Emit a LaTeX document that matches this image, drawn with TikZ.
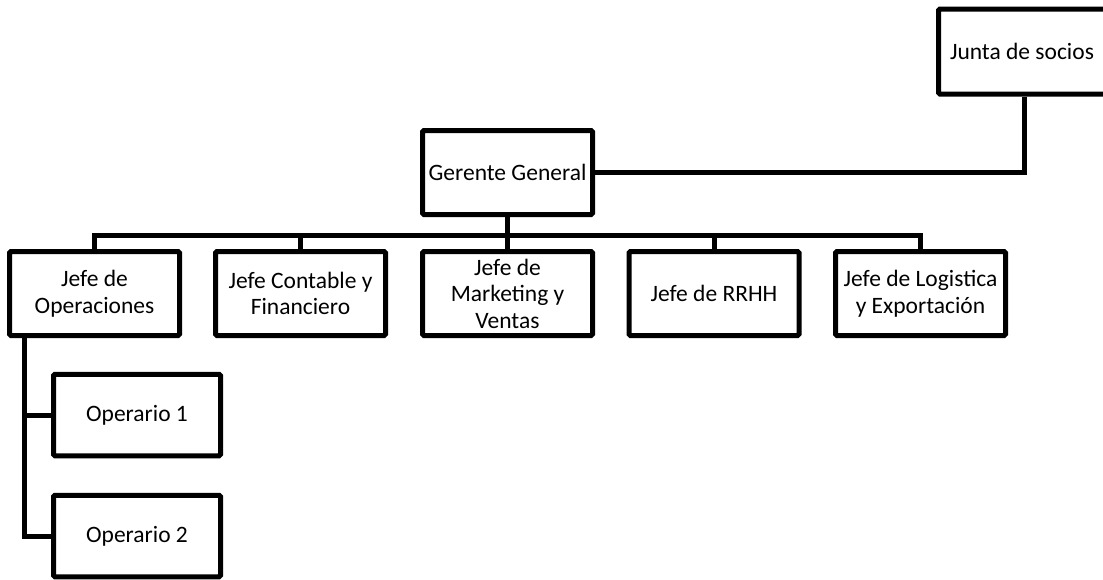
\documentclass[tikz,border=0pt]{standalone}
\usepackage{fontspec}
\setmainfont{Carlito}
\usetikzlibrary{calc}
\begin{document}
\begin{tikzpicture}[x=1pt,y=-1pt,
  orgbox/.style={draw=black,line width=5pt,rounded corners=1.5pt,fill=white,
    minimum width=170pt,minimum height=84pt,inner sep=0pt,align=center,
    font=\fontsize{23.5}{26.5}\selectfont},
  link/.style={draw=black,line width=5pt}]
\useasboundingbox (0,0) rectangle (1103,579);
\clip (0,0) rectangle (1103,579);
\fill[white] (0,0) rectangle (1103,579);
% nodes
\node[orgbox,minimum width=175pt,minimum height=85pt] (junta) at (1026,51.5) {Junta de socios\hspace*{8pt}};
\node[orgbox] (gerente) at (507.5,172.5) {Gerente General};
\node[orgbox,minimum height=84pt] (oper) at (94.5,293.5) {Jefe de\\Operaciones};
\node[orgbox,minimum height=84pt] (cont) at (300.5,293.5) {Jefe Contable y\\Financiero};
\node[orgbox,minimum height=84pt] (mark) at (507.5,293.5) {Jefe de\\Marketing y\\Ventas};
\node[orgbox,minimum height=84pt] (rrhh) at (714,293.5) {Jefe de RRHH};
\node[orgbox,minimum height=84pt] (logi) at (920.5,293.5) {Jefe de Logistica\\y Exportación};
\node[orgbox,minimum width=167pt,minimum height=81.5pt] (op1) at (137,415) {Operario 1};
\node[orgbox,minimum width=167pt,minimum height=81.5pt] (op2) at (137,536) {Operario 2};
% helper coordinates
\coordinate (bus) at (0,235);
\coordinate (opv) at ([xshift=17pt]oper.south west);
\coordinate (jv) at ([xshift=-2pt]junta.south);
% connectors
\draw[link] (jv) |- (gerente.east);
\draw[link] (gerente.south) -- (mark.north);
\draw[link] (oper.north) |- (gerente.south |- bus) -| (logi.north);
\draw[link] (cont.north) -- (cont.north |- bus);
\draw[link] (rrhh.north) -- (rrhh.north |- bus);
\draw[link] (opv) |- (op2.west);
\draw[link] (op1.west) -- (op1.west -| opv);
\end{tikzpicture}
\end{document}
